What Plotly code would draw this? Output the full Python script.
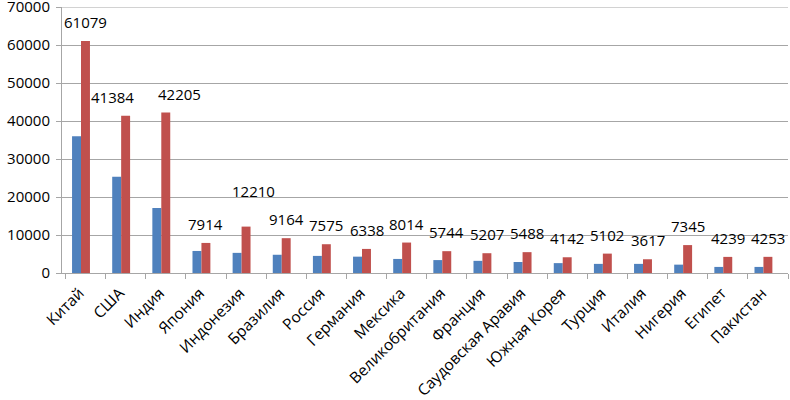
import plotly.graph_objects as go

countries = ["Китай", "США", "Индия", "Япония", "Индонезия", "Бразилия", "Россия",
             "Германия", "Мексика", "Великобритания", "Франция", "Саудовская Аравия",
             "Южная Корея", "Турция", "Италия", "Нигерия", "Египет", "Пакистан"]
series_blue = [36000, 25300, 17100, 5800, 5300, 4800, 4500, 4300, 3700, 3400, 3200, 2900,
               2600, 2400, 2400, 2200, 1600, 1600]
series_red = [61079, 41384, 42205, 7914, 12210, 9164, 7575, 6338, 8014, 5744, 5207, 5488,
              4142, 5102, 3617, 7345, 4239, 4253]
y_ticks = [0, 10000, 20000, 30000, 40000, 50000, 60000, 70000]

FONT = "Open Sans"
GRID = "#A6A6A6"

fig = go.Figure()
fig.add_trace(go.Bar(x=countries, y=series_blue, marker_color="#4F81BD",
                     width=0.223, offset=-0.335, marker_line_width=0))
fig.add_trace(go.Bar(x=countries, y=series_red, marker_color="#C0504D",
                     width=0.223, offset=-0.112, marker_line_width=0))

# label nudges (pixels) for labels that were moved manually in the original
nudge = {"США": (-13, 0), "Индия": (14, 0), "Индонезия": (7, 17)}
for c, v in zip(countries, series_red):
    dx, dy = nudge.get(c, (0, 0))
    fig.add_annotation(x=c, y=v, text=str(v), showarrow=False,
                       xshift=dx, yshift=19 + dy, yanchor="middle", xanchor="center",
                       font=dict(family=FONT, size=15, color="black"))

# top gridline (plotly omits the gridline at the range edge)
fig.add_shape(type="line", xref="paper", yref="y", x0=0, x1=1,
              y0=y_ticks[-1], y1=y_ticks[-1], line=dict(color=GRID, width=1))

fig.update_layout(
    width=790, height=400,
    margin=dict(l=62, r=2, t=7, b=127),
    paper_bgcolor="white", plot_bgcolor="white",
    showlegend=False, barmode="overlay",
    font=dict(family=FONT, size=15, color="black"),
)
fig.update_xaxes(tickangle=-45, showline=True, linecolor=GRID, linewidth=1,
                 ticks="outside", tickson="boundaries", ticklen=5, tickcolor=GRID,
                 showgrid=False, automargin=False,
                 ticklabelshift=-6, ticklabelstandoff=4,
                 tickfont=dict(family=FONT, size=15.5, color="black"))
fig.update_yaxes(range=[0, 70000], tickvals=y_ticks, showline=True, linecolor=GRID,
                 linewidth=1, showgrid=True, gridcolor=GRID, gridwidth=1,
                 ticks="outside", ticklen=5, tickcolor=GRID, zeroline=False,
                 ticklabelstandoff=3, tickformat="d", automargin=False,
                 ticklabeloverflow="allow",
                 tickfont=dict(family=FONT, size=15, color="black"))

fig.write_html("out.html", config={"displayModeBar": False},
               post_script="document.body.style.margin='0';document.body.style.overflow='hidden';")
